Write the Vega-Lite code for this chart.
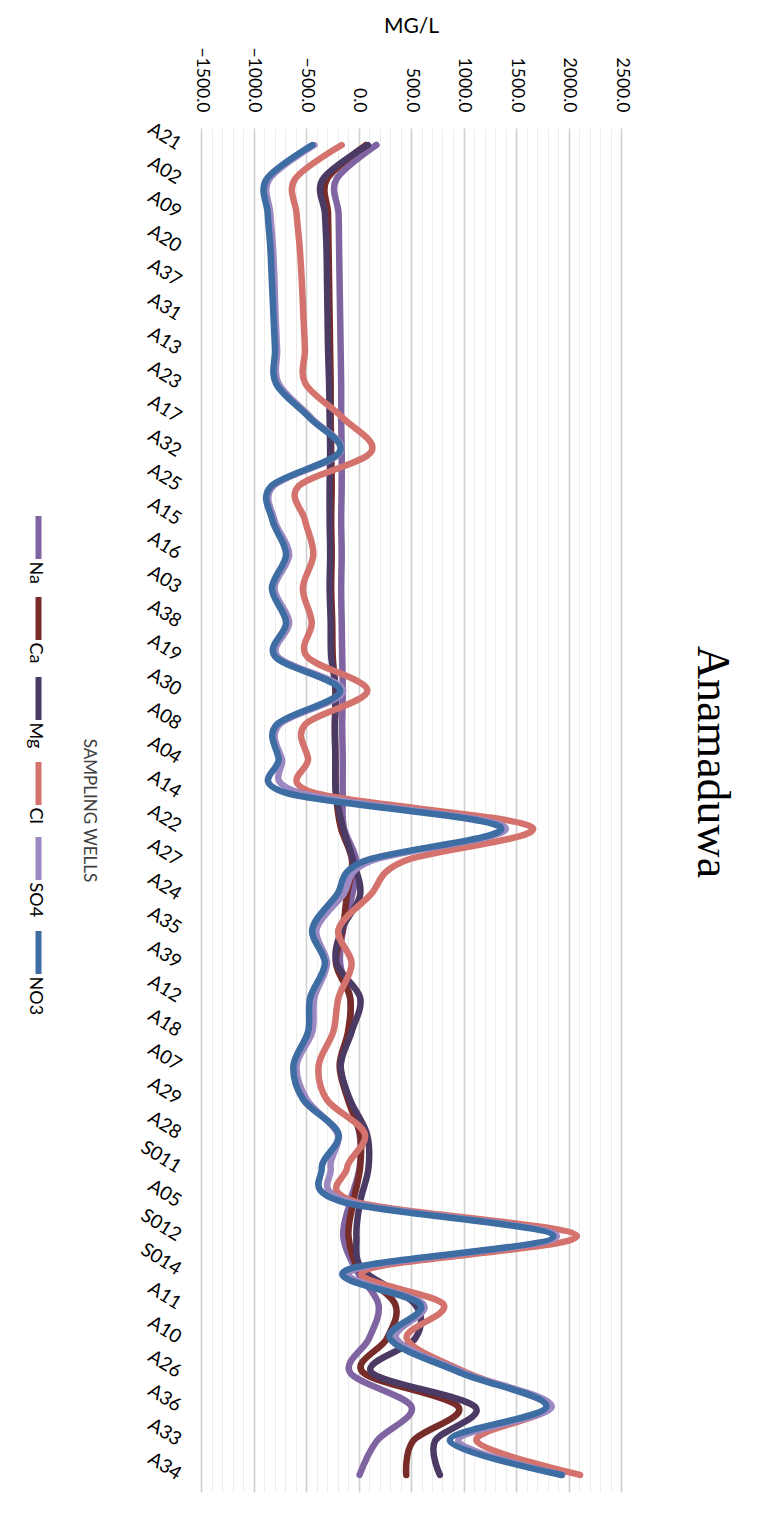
{
  "$schema": "https://vega.github.io/schema/vega-lite/v6.json",
  "width": 420,
  "height": 1364,
  "autosize": {"type": "none"},
  "padding": {"left": 201, "top": 128, "right": 140, "bottom": 24},
  "background": "white",
  "config": {"font": "Lato", "view": {"stroke": null}},
  "title": {"text": "Anamaduwa", "orient": "right", "anchor": "middle", "font": "Liberation Serif", "fontSize": 46, "fontWeight": "normal", "color": "#000000", "offset": 58, "dx": -48},
  "data": {"values": [
    {"well": "A21", "Na": 170, "Ca": 70, "Mg": 90, "Cl": -160, "SO4": -420, "NO3": -440},
    {"well": "A02", "Na": -210, "Ca": -300, "Mg": -340, "Cl": -605, "SO4": -850, "NO3": -875},
    {"well": "A09", "Na": -190, "Ca": -290, "Mg": -320, "Cl": -590, "SO4": -840, "NO3": -865},
    {"well": "A20", "Na": -185, "Ca": -285, "Mg": -305, "Cl": -560, "SO4": -815, "NO3": -840},
    {"well": "A37", "Na": -180, "Ca": -280, "Mg": -300, "Cl": -540, "SO4": -800, "NO3": -825},
    {"well": "A31", "Na": -175, "Ca": -275, "Mg": -295, "Cl": -525, "SO4": -790, "NO3": -810},
    {"well": "A13", "Na": -170, "Ca": -270, "Mg": -290, "Cl": -510, "SO4": -775, "NO3": -795},
    {"well": "A23", "Na": -165, "Ca": -265, "Mg": -280, "Cl": -505, "SO4": -760, "NO3": -785},
    {"well": "A17", "Na": -165, "Ca": -265, "Mg": -275, "Cl": -150, "SO4": -450, "NO3": -465},
    {"well": "A32", "Na": -160, "Ca": -260, "Mg": -270, "Cl": 120, "SO4": -170, "NO3": -180},
    {"well": "A25", "Na": -160, "Ca": -255, "Mg": -275, "Cl": -570, "SO4": -810, "NO3": -830},
    {"well": "A15", "Na": -165, "Ca": -260, "Mg": -275, "Cl": -510, "SO4": -800, "NO3": -820},
    {"well": "A16", "Na": -160, "Ca": -255, "Mg": -270, "Cl": -430, "SO4": -660, "NO3": -690},
    {"well": "A03", "Na": -165, "Ca": -260, "Mg": -275, "Cl": -530, "SO4": -800, "NO3": -825},
    {"well": "A38", "Na": -160, "Ca": -250, "Mg": -265, "Cl": -445, "SO4": -660, "NO3": -690},
    {"well": "A19", "Na": -155, "Ca": -245, "Mg": -260, "Cl": -490, "SO4": -770, "NO3": -795},
    {"well": "A30", "Na": -150, "Ca": -220, "Mg": -215, "Cl": 85, "SO4": -145, "NO3": -175},
    {"well": "A08", "Na": -155, "Ca": -225, "Mg": -225, "Cl": -510, "SO4": -755, "NO3": -780},
    {"well": "A04", "Na": -150, "Ca": -220, "Mg": -220, "Cl": -480, "SO4": -730, "NO3": -760},
    {"well": "A14", "Na": -150, "Ca": -215, "Mg": -215, "Cl": -420, "SO4": -560, "NO3": -690},
    {"well": "A22", "Na": -140, "Ca": -170, "Mg": -150, "Cl": 1650, "SO4": 1395, "NO3": 1350},
    {"well": "A27", "Na": -20, "Ca": -60, "Mg": -50, "Cl": 430, "SO4": 110, "NO3": 50},
    {"well": "A24", "Na": -60, "Ca": -110, "Mg": 15, "Cl": 110, "SO4": -150, "NO3": -210},
    {"well": "A35", "Na": -145, "Ca": -150, "Mg": -160, "Cl": -190, "SO4": -400, "NO3": -440},
    {"well": "A39", "Na": -175, "Ca": -215, "Mg": -210, "Cl": -65, "SO4": -300, "NO3": -320},
    {"well": "A12", "Na": -80, "Ca": -80, "Mg": 15, "Cl": -190, "SO4": -420, "NO3": -460},
    {"well": "A18", "Na": -90, "Ca": -100, "Mg": -65, "Cl": -240, "SO4": -440, "NO3": -480},
    {"well": "A07", "Na": -170, "Ca": -180, "Mg": -170, "Cl": -380, "SO4": -590, "NO3": -620},
    {"well": "A29", "Na": -90, "Ca": -100, "Mg": -80, "Cl": -300, "SO4": -490, "NO3": -525},
    {"well": "A28", "Na": 10, "Ca": 15, "Mg": 80, "Cl": 60, "SO4": -200, "NO3": -190},
    {"well": "S011", "Na": 10, "Ca": 15, "Mg": 95, "Cl": -110, "SO4": -265, "NO3": -350},
    {"well": "A05", "Na": -80, "Ca": -50, "Mg": 15, "Cl": -20, "SO4": -80, "NO3": -145},
    {"well": "S012", "Na": -145, "Ca": -95, "Mg": -20, "Cl": 2080, "SO4": 1890, "NO3": 1855},
    {"well": "S014", "Na": -20, "Ca": 10, "Mg": 45, "Cl": 60, "SO4": -60, "NO3": -120},
    {"well": "A11", "Na": 190, "Ca": 350, "Mg": 540, "Cl": 810, "SO4": 620, "NO3": 590},
    {"well": "A10", "Na": 100, "Ca": 270, "Mg": 540, "Cl": 460, "SO4": 360, "NO3": 300},
    {"well": "A26", "Na": -80, "Ca": 45, "Mg": 125, "Cl": 1030, "SO4": 1000, "NO3": 970},
    {"well": "A36", "Na": 505, "Ca": 950, "Mg": 1110, "Cl": 1810, "SO4": 1840, "NO3": 1790},
    {"well": "A33", "Na": 175, "Ca": 520, "Mg": 730, "Cl": 1125, "SO4": 950, "NO3": 870},
    {"well": "A34", "Na": 10, "Ca": 455, "Mg": 775, "Cl": 2110, "SO4": 1940, "NO3": 1935}
  ]},
  "transform": [{"fold": ["Na", "Ca", "Mg", "Cl", "SO4", "NO3"], "as": ["ion", "value"]}],
  "mark": {"type": "line", "interpolate": "cardinal", "tension": 0, "strokeWidth": 6.5, "strokeCap": "round", "strokeJoin": "round"},
  "encoding": {
    "y": {"field": "well", "type": "nominal", "sort": null,
      "scale": {"type": "point", "padding": 0.5},
      "axis": {"title": "SAMPLING WELLS", "titleAngle": 90, "titleFont": "Lato", "titleFontSize": 17, "titleFontWeight": "normal", "titleColor": "#404040", "titlePadding": 57,
        "labelAngle": 32, "labelAlign": "right", "labelBaseline": "middle", "labelFont": "Lato", "labelFontSize": 19, "labelColor": "#000000", "labelPadding": 22,
        "domain": false, "ticks": false, "grid": false}},
    "x": {"field": "value", "type": "quantitative",
      "scale": {"domain": [-1500, 2500], "nice": false, "zero": false},
      "axis": {"orient": "top", "title": "MG/L", "titleFont": "Lato", "titleFontSize": 21, "titleFontWeight": "normal", "titleColor": "#000000", "titlePadding": 10,
        "values": [-1500,-1400,-1300,-1200,-1100,-1000,-900,-800,-700,-600,-500,-400,-300,-200,-100,0,100,200,300,400,500,600,700,800,900,1000,1100,1200,1300,1400,1500,1600,1700,1800,1900,2000,2100,2200,2300,2400,2500],
        "labelExpr": "datum.value % 500 === 0 ? format(datum.value, '.1f') : ''",
        "labelAngle": 90, "labelAlign": "right", "labelBaseline": "middle", "labelFont": "Lato", "labelFontSize": 17.5, "labelColor": "#000000", "labelPadding": 16,
        "domain": false, "ticks": false,
        "grid": true, "gridColor": {"condition": {"test": "datum.value % 500 === 0", "value": "#d0d0d0"}, "value": "#ececec"}, "gridWidth": {"condition": {"test": "datum.value % 500 === 0", "value": 1.6}, "value": 1}}},
    "color": {"field": "ion", "type": "nominal",
      "scale": {"domain": ["Na", "Ca", "Mg", "Cl", "SO4", "NO3"], "range": ["#8064A2", "#772C2A", "#4B3A63", "#D4736E", "#9D89C1", "#3E6DA4"]},
      "legend": {"title": null, "orient": "none", "legendX": -187, "legendY": 385, "direction": "vertical",
        "symbolType": "M0,-1L0,1", "symbolSize": 1849, "symbolStrokeWidth": 6, "labelFont": "Lato", "labelFontSize": 18, "labelColor": "#000000", "labelOffset": 0, "rowPadding": 1,
        "encode": {"labels": {"update": {"angle": {"value": 90}, "align": {"value": "left"}, "baseline": {"value": "middle"}, "dx": {"value": 24}, "dy": {"value": 28}}}}}
    },
    "order": {"value": null}
  }
}
